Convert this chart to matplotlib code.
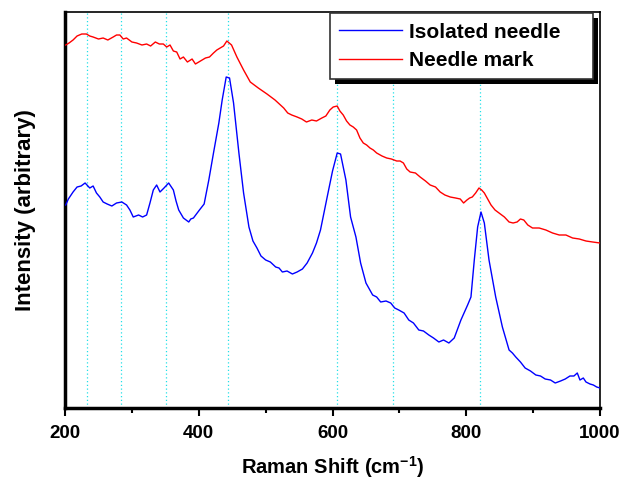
import matplotlib
matplotlib.use("Agg")
from matplotlib import pyplot as plt
from matplotlib.patches import Rectangle

plt.rcParams['font.family'] = ['Liberation Sans', 'DejaVu Sans']
plt.rcParams['font.weight'] = 'bold'
plt.rcParams['mathtext.fontset'] = 'custom'
plt.rcParams['mathtext.rm'] = 'Liberation Sans:bold'
plt.rcParams['mathtext.bf'] = 'Liberation Sans:bold'

# isolated needle spectrum (arbitrary units)
needle_x = [201, 205, 212, 218, 224, 230, 237, 242, 247, 252, 257, 263, 270, 277, 285,
            292, 297, 302, 310, 316, 322, 327, 332, 337, 342, 348, 355, 362, 366, 370,
            377, 385, 388, 392, 401, 408, 415, 422, 430, 435, 441, 446, 452, 460,
            467, 475, 481, 487, 493, 500, 507, 515, 520, 525, 532, 540, 547, 555, 562,
            570, 576, 582, 592, 600, 607, 612, 620,
            627, 635, 642, 650, 660, 666, 672, 680, 687, 693, 699, 707, 714, 721, 729, 736,
            744, 751, 759, 766, 774, 782, 792, 802, 807, 812, 817, 822, 827, 834, 844,
            854, 864, 869, 874, 881, 888, 896, 904, 911, 918, 926, 933,
            941, 948, 955, 961, 966, 970, 975, 979, 985, 990, 995, 1000]
needle_y = [204, 210, 217, 222, 223, 226, 221, 223, 216, 212, 207, 205, 203, 206, 207,
            204, 199, 192, 194, 192, 194, 206, 219, 224, 217, 221, 226, 219, 208, 199,
            191, 187, 190, 191, 199, 205, 229, 256, 286, 309, 332, 331, 306, 256,
            216, 182, 168, 161, 153, 149, 147, 142, 141, 137, 138, 135, 137, 140, 146,
            156, 166, 179, 212, 238, 256, 255, 229,
            192, 172, 146, 126, 114, 112, 107, 108, 106, 101, 99, 96, 89, 86, 79, 78,
            74, 71, 67, 69, 66, 71, 89, 104, 112, 149, 182, 197, 186, 149, 112,
            82, 59, 56, 52, 47, 41, 38, 34, 33, 30, 29, 26,
            28, 30, 33, 33, 36, 29, 31, 27, 25, 24, 22, 21]

# needle mark spectrum (arbitrary units)
mark_x = [201, 206, 212, 218, 225, 232, 237, 242, 250, 257, 264, 272, 277, 282, 287,
          292, 300, 307, 315, 322, 328, 335, 341, 347, 352, 357, 362, 367, 372,
          377, 383, 390, 395, 400, 405, 410, 416, 422, 427, 432, 437, 442, 449, 457,
          467, 477, 489, 502, 514, 527, 533,
          539, 547, 554, 561, 569, 576, 584, 590, 596, 601, 607, 611, 616, 621, 626, 631,
          636, 641, 646, 651, 656, 661, 666, 674, 681, 688, 696, 701, 706, 711,
          716, 724, 731, 739, 746, 754, 761, 768, 776, 784, 791, 796, 801, 805, 809, 814,
          819, 823, 827, 832, 837, 843, 849, 857, 864, 870, 876, 881, 886, 892,
          899, 909, 919, 929, 939, 949, 959, 969, 979, 989, 1000]
mark_y = [364, 366, 369, 373, 375, 375, 373, 372, 370, 371, 369, 372, 374, 374, 370,
          371, 367, 366, 364, 365, 363, 367, 365, 365, 362, 364, 358, 357, 350,
          352, 347, 350, 345, 347, 349, 351, 352, 356, 359, 361, 363, 368, 364, 352,
          339, 327, 321, 315, 309, 301, 296,
          294, 292, 290, 287, 289, 288, 291, 293, 299, 302, 303, 298, 294, 288, 284, 282,
          279, 271, 266, 264, 261, 259, 256, 253, 251, 250, 248, 248, 246, 240,
          237, 236, 232, 228, 224, 222, 217, 214, 212, 211, 210, 206, 209, 211, 212, 216,
          221, 219, 216, 210, 204, 199, 196, 192, 187, 186, 187, 190, 189, 184,
          181, 181, 179, 176, 174, 174, 171, 170, 168, 167, 166]

peak_lines = [233, 284, 351, 444, 607, 691, 821]

fig = plt.figure(figsize=(6.32, 4.86), dpi=100)
ax = fig.add_axes([0.1029, 0.1605, 0.8465, 0.8148])

for p in peak_lines:
    ax.axvline(p, color="#22e0e8", lw=0.9, ls=(0, (1, 2)), zorder=1)

ax.plot(needle_x, needle_y, color="#0000ff", lw=1.0, label="Isolated needle", zorder=3)
ax.plot(mark_x, mark_y, color="#ff0000", lw=1.0, label="Needle mark", zorder=3)

ax.set_xlim(200, 1000)
ax.set_ylim(1, 397)
ax.set_xticks([200, 400, 600, 800, 1000])
ax.set_xticks([300, 500, 700, 900], minor=True)
ax.set_yticks([])
ax.tick_params(axis="x", which="major", direction="out", length=6, width=1.5,
               labelsize=13.5, pad=6)
ax.tick_params(axis="x", which="minor", direction="out", length=3.5, width=1.5)
for lab in ax.get_xticklabels():
    lab.set_fontweight("bold")

ax.spines["left"].set_linewidth(2.5)
ax.spines["bottom"].set_linewidth(2.5)
ax.spines["top"].set_linewidth(1.2)
ax.spines["right"].set_linewidth(1.2)

ax.set_xlabel("Raman Shift (cm$^{-1}$)", fontsize=14.5, fontweight="bold", labelpad=9)
ax.set_ylabel("Intensity (arbitrary)", fontsize=16, fontweight="bold", labelpad=21)

leg = ax.legend(loc="upper left", bbox_to_anchor=(0.495, 0.831, 0.492, 0.166),
                mode="expand", borderaxespad=0, fancybox=False, frameon=True,
                edgecolor="#333333", framealpha=1, handlelength=3.0, handletextpad=0.35,
                borderpad=0.45, labelspacing=0.45, prop={"size": 15, "weight": "bold"})
leg.get_frame().set_linewidth(1.2)
leg.set_zorder(5)

fig.canvas.draw()
bb = leg.get_window_extent().transformed(ax.transAxes.inverted())
dx = 5 / (ax.bbox.width)
dy = 5 / (ax.bbox.height)
shadow = Rectangle((bb.x0 + dx, bb.y0 - dy), bb.width, bb.height, transform=ax.transAxes,
                   facecolor="black", edgecolor="none", zorder=4, clip_on=False)
ax.add_patch(shadow)

fig.savefig("out.png", dpi=100)
